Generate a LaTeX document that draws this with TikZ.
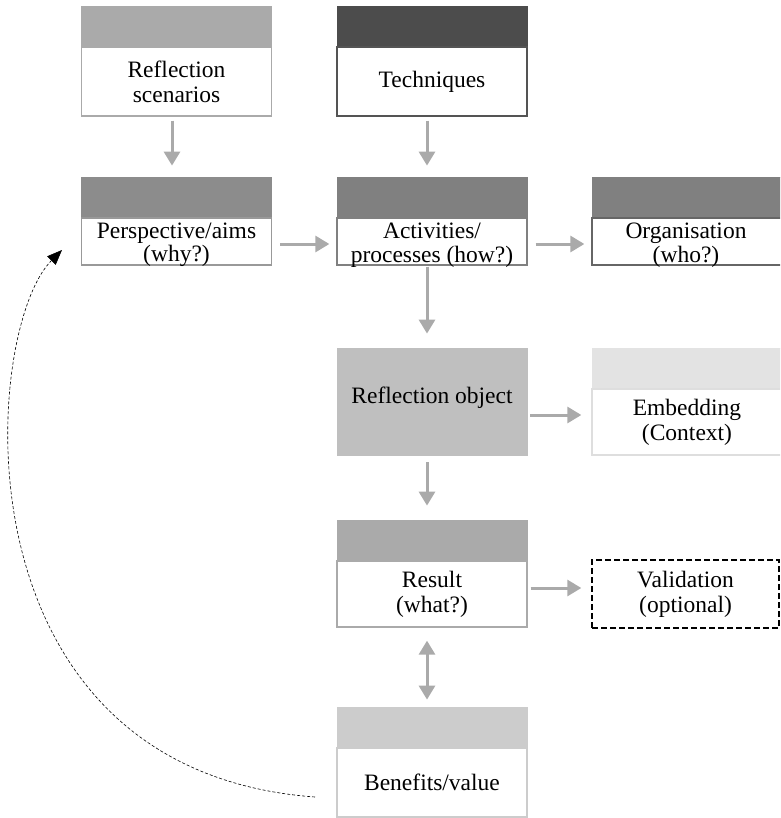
\documentclass[tikz,border=0pt]{standalone}
\usepackage{fontspec}
\setmainfont{Liberation Serif}
\usetikzlibrary{arrows.meta}
\definecolor{arrgray}{HTML}{AAAAAA}
\newcommand{\fsz}{\fontsize{23.5}{25}\selectfont}
\newcommand{\fszt}{\fontsize{23.5}{23.5}\selectfont}
\begin{document}
\begin{tikzpicture}[x=1pt,y=-1pt,
  body/.style={draw, fill=white, line width=1.3pt, minimum width=190pt, inner sep=0pt, align=center, font=\fsz},
  hdr/.style={draw, line width=0.8pt, minimum width=190pt, minimum height=39pt, inner sep=0pt},
  lbl/.style={align=center, font=\fszt, inner sep=0pt},
  garrow/.style={draw=arrgray, line width=3pt, -{Triangle[length=14pt,width=16pt]}},
  gdarrow/.style={draw=arrgray, line width=3pt, {Triangle[length=14pt,width=16pt]}-{Triangle[length=14pt,width=16pt]}},
  fb/.style={draw=black, line width=0.6pt, dash pattern=on 3pt off 2pt, -{Triangle[length=15pt,width=12pt]}}
]
\useasboundingbox (0,0) rectangle (780,818);
\clip (0,0) rectangle (780,818);

% Reflection scenarios
\node[hdr, draw=arrgray, fill=arrgray] (rsh) at (176.5,26) {};
\node[body, draw=arrgray, minimum height=69pt] (rs) at (176.5,81.5) {Reflection\\scenarios};
% Techniques
\node[hdr, draw=black!70, fill=black!70] (teh) at (432,26) {};
\node[body, draw=black!67, minimum height=69pt] (te) at (432,81.5) {Techniques};

% Perspective
\node[hdr, draw=black!45, fill=black!45] (pah) at (176.5,196.5) {};
\node[body, draw=black!40, minimum height=47pt] (pa) at (176.5,241.5) {};
\node[lbl] (pat) at (176.5,245) {Perspective/aims\\(why?)};
% Activities
\node[hdr, draw=black!50, fill=black!50] (ach) at (432,196.5) {};
\node[body, draw=black!50, minimum height=47pt] (ac) at (432,241.5) {};
\node[lbl] (act) at (432,245) {Activities/\\processes (how?)};
% Organisation
\node[hdr, draw=black!50, fill=black!50] (orh) at (687,196.5) {};
\node[body, draw=black!60, minimum height=47pt] (or) at (687,241.5) {};
\node[lbl] (ort) at (686,245) {Organisation\\(who?)};

% Reflection object
\node[draw=black!25, fill=black!25, line width=0.8pt, minimum width=190pt, minimum height=107pt, inner sep=0pt] (ro) at (432,401.5) {};
\node[lbl] (rot) at (432,398) {Reflection object};
% Embedding
\node[hdr, draw=black!11, fill=black!11] (emh) at (687,367.5) {};
\node[body, draw=black!13, minimum height=66pt] (em) at (687,422) {Embedding\\(Context)};

% Result
\node[hdr, draw=arrgray, fill=arrgray] (reh) at (432,539.5) {};
\node[body, draw=arrgray, minimum height=66pt] (re) at (432,594) {Result\\(what?)};
% Validation
\node[body, draw=black, dash pattern=on 6pt off 3pt, line width=1.4pt, minimum width=187pt, minimum height=68pt] (va) at (685.5,594) {Validation\\(optional)};

% Benefits
\node[hdr, draw=black!20, fill=black!20] (bvh) at (432,726.5) {};
\node[body, draw=black!20, minimum height=69pt] (bv) at (432,782.5) {Benefits/value};

% connectors
\draw[garrow, shorten <=4pt, shorten >=11pt] ([xshift=-4.5pt]rs.south) -- ([xshift=-4.5pt]pah.north);
\draw[garrow, shorten <=4pt, shorten >=11pt] ([xshift=-5pt]te.south) -- ([xshift=-5pt]ach.north);
\draw[garrow, shorten <=8pt, shorten >=7pt] ([yshift=-2.5pt]pa.east) -- ([yshift=-2.5pt]ac.west);
\draw[garrow, shorten <=8pt, shorten >=7pt] ([yshift=-2.5pt]ac.east) -- ([yshift=-2.5pt]or.west);
\draw[garrow, shorten <=1pt, shorten >=14pt] ([xshift=-5pt]ac.south) -- ([xshift=-5pt]ro.north);
\draw[garrow, shorten <=3pt, shorten >=10pt] ([yshift=-13.5pt]ro.east) -- ([yshift=7pt]em.west);
\draw[garrow, shorten <=7pt, shorten >=14pt] ([xshift=-5pt]ro.south) -- ([xshift=-5pt]reh.north);
\draw[garrow, shorten <=3pt, shorten >=10pt] ([yshift=6pt]re.east) -- ([yshift=6pt]va.west);
\draw[gdarrow, shorten <=13pt, shorten >=7pt] ([xshift=-5pt]re.south) -- ([xshift=-5pt]bvh.north);

\coordinate (cs) at (315,797);
\coordinate (ce) at (62,250);
\draw[fb] (cs) .. controls (-50,770) and (-18,330) .. (ce);
\end{tikzpicture}
\end{document}
